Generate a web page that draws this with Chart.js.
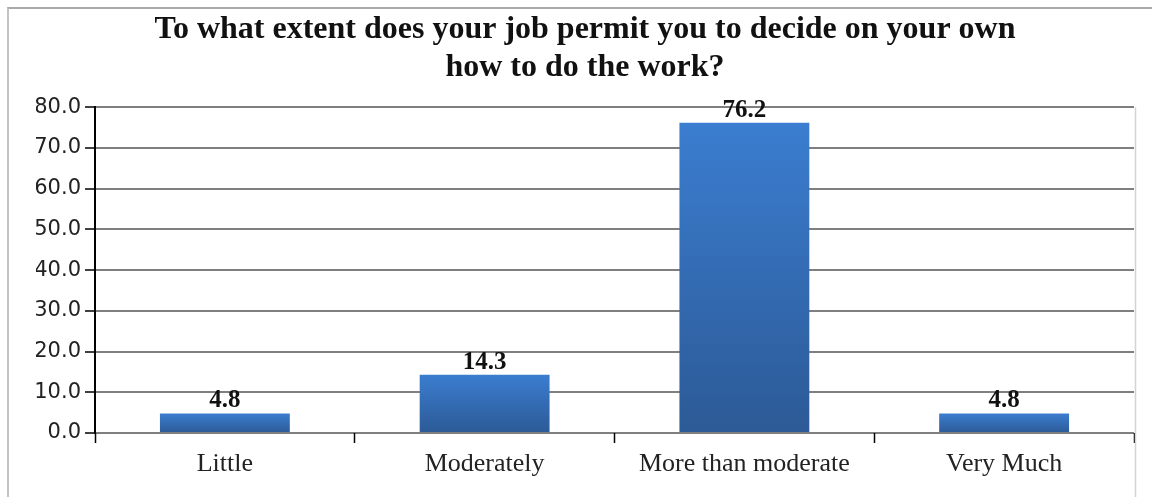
<!DOCTYPE html>
<html>
<head>
<meta charset="utf-8">
<script src="https://cdn.jsdelivr.net/npm/chart.js@4/dist/chart.umd.min.js"></script>
<style>
    html, body { margin: 0; padding: 0; background: #fff; overflow: hidden; }
    #frame { position: absolute; left: 7px; top: 7px; right: 0; bottom: -10px; border-top: 2px solid #a9a9a9; border-left: 2px solid #c4c4c4; pointer-events: none; }
    #chart { position: absolute; left: 0; top: 0; }
</style>
</head>
<body>
<canvas id="chart" width="1152" height="497"></canvas>
<div id="frame"></div>
<script>
// --- DATA ---
const titleLines = ['To what extent does your job permit you to decide on your own', 'how to do the work?'];
const categories = ['Little', 'Moderately', 'More than moderate', 'Very Much'];
const percentValues = [4.8, 14.3, 76.2, 4.8];
const yTicks = [0, 10, 20, 30, 40, 50, 60, 70, 80];

// bar fill: light blue at the top, darker towards the base
function barGradient(context) {
    const chart = context.chart;
    if (!chart.chartArea || context.type !== 'data') return '#3670b8';
    const y = chart.scales.y;
    const top = y.getPixelForValue(context.raw);
    const bottom = y.getPixelForValue(0);
    const g = chart.ctx.createLinearGradient(0, top, 0, bottom);
    g.addColorStop(0, '#3b7dd0');
    g.addColorStop(1, '#2c5a96');
    return g;
}

// value labels above each bar
const valueLabels = {
    id: 'valueLabels',
    afterDatasetsDraw(chart) {
        const ctx = chart.ctx;
        const meta = chart.getDatasetMeta(0);
        ctx.save();
        ctx.font = 'bold 25px "Liberation Serif"';
        ctx.fillStyle = '#111';
        ctx.textAlign = 'center';
        ctx.textBaseline = 'alphabetic';
        meta.data.forEach((bar, i) => {
            ctx.fillText(percentValues[i].toFixed(1), bar.x, bar.y - 6);
        });
        ctx.restore();
    }
};

// faint right edge of the plot frame
const rightEdge = {
    id: 'rightEdge',
    afterDraw(chart) {
        const { ctx, chartArea } = chart;
        ctx.save();
        ctx.strokeStyle = '#d4d4d4';
        ctx.lineWidth = 1.5;
        ctx.beginPath();
        ctx.moveTo(chartArea.right + 1.5, chartArea.top);
        ctx.lineTo(chartArea.right + 1.5, chart.height);
        ctx.stroke();
        ctx.restore();
    }
};

Chart.defaults.font.family = '"Liberation Serif", serif';
Chart.defaults.color = '#222';

new Chart(document.getElementById('chart').getContext('2d'), {
    type: 'bar',
    data: {
        labels: categories,
        datasets: [{
            data: percentValues,
            backgroundColor: barGradient,
            borderWidth: 0,
            categoryPercentage: 1,
            barPercentage: 0.5
        }]
    },
    options: {
        responsive: false,
        animation: false,
        layout: { padding: { left: 36, right: 18, top: 0, bottom: 4 } },
        plugins: {
            legend: { display: false },
            tooltip: { enabled: false },
            title: {
                display: true,
                text: titleLines,
                color: '#111',
                font: { family: '"Liberation Serif"', size: 32, weight: 'bold', lineHeight: 1.19 },
                padding: { top: 11, bottom: 20 }
            }
        },
        scales: {
            y: {
                min: 0,
                max: 80,
                afterBuildTicks: (axis) => { axis.ticks = yTicks.map(v => ({ value: v })); },
                afterFit: (axis) => { axis.width = 59; },
                border: { display: true, color: '#000', width: 2 },
                grid: { color: '#7f7f7f', lineWidth: 2, tickColor: '#000', tickLength: 10, tickWidth: 1.5 },
                ticks: {
                    padding: 4,
                    color: '#222',
                    font: { family: '"DejaVu Sans"', size: 21 },
                    callback: (v) => Number(v).toFixed(1)
                }
            },
            x: {
                afterFit: (axis) => { axis.height = 60; },
                border: { display: false },
                grid: { offset: true, drawOnChartArea: false, tickColor: '#000', tickLength: 10, tickWidth: 1.5 },
                ticks: {
                    padding: 6,
                    color: '#222',
                    font: { family: '"Liberation Serif"', size: 26 }
                }
            }
        }
    },
    plugins: [valueLabels, rightEdge]
});
</script>
</body>
</html>
